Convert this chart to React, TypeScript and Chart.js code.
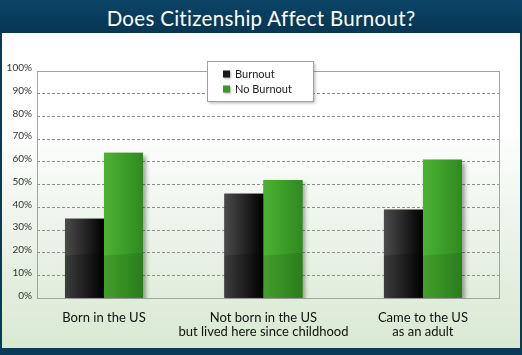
import React, { useEffect, useRef } from "react";
import { Chart, registerables } from "chart.js";

Chart.register(...registerables);

const TITLE = "Does Citizenship Affect Burnout?";
const categories: (string | string[])[] = [
  "Born in the US",
  ["Not born in the US", "but lived here since childhood"],
  ["Came to the US", "as an adult"],
];
const categoryPositions = [0, 1, 2];
const burnout = [35, 46, 39];
const noBurnout = [64, 52, 61];
const yTicks = [0, 10, 20, 30, 40, 50, 60, 70, 80, 90, 100];
const seriesNames = ["Burnout", "No Burnout"];

const FONT = "Lato, 'Open Sans', 'DejaVu Sans', sans-serif";

export default function App() {
  const ref = useRef<HTMLCanvasElement | null>(null);

  useEffect(() => {
    document.body.style.margin = "0";
    const canvas = ref.current!;

    const shadowPlugin = {
      id: "shadowPlugin",
      beforeDatasetsDraw(chart: any) {
        const ctx = chart.ctx;
        const a = chart.chartArea;
        ctx.save();
        ctx.strokeStyle = "#a3a3a3";
        ctx.lineWidth = 1;
        ctx.strokeRect(Math.round(a.left) + 0.5, Math.round(a.top) + 0.5, Math.round(a.right - a.left), Math.round(a.bottom - a.top));
        ctx.restore();
        ctx.save();
        ctx.shadowColor = "rgba(0,0,0,0.35)";
        ctx.shadowOffsetX = 3;
        ctx.shadowOffsetY = 3;
        ctx.shadowBlur = 4;
      },
      afterDatasetsDraw(chart: any) {
        const ctx = chart.ctx;
        ctx.restore();
        chart.data.datasets.forEach((ds: any, di: number) => {
          const meta = chart.getDatasetMeta(di);
          meta.data.forEach((el: any) => {
            const left = el.x - el.width / 2;
            const right = el.x + el.width / 2;
            const top = el.y;
            const bottom = el.base;
            const g = ctx.createLinearGradient(left, 0, right, 0);
            if (di === 0) {
              g.addColorStop(0, "#4b4b4b");
              g.addColorStop(0.45, "#2a2a2a");
              g.addColorStop(1, "#000000");
            } else {
              g.addColorStop(0, "#4db233");
              g.addColorStop(1, "#2f8a1f");
            }
            ctx.save();
            ctx.fillStyle = g;
            ctx.fillRect(left, top, right - left, bottom - top);
            const y1 = Math.max(top, bottom - 42);
            const y2 = Math.max(top, bottom - 45);
            ctx.beginPath();
            ctx.moveTo(left, y1);
            ctx.lineTo(right, y2);
            ctx.lineTo(right, bottom);
            ctx.lineTo(left, bottom);
            ctx.closePath();
            ctx.fillStyle = di === 0 ? "rgba(0,0,0,0.18)" : "rgba(20,60,10,0.16)";
            ctx.fill();
            ctx.restore();
          });
        });
      },
      afterDraw(chart: any) {
        const ctx = chart.ctx;
        const bx = 207, by = 61, bw = 106, bh = 40;
        ctx.save();
        ctx.shadowColor = "rgba(0,0,0,0.3)";
        ctx.shadowOffsetX = 2;
        ctx.shadowOffsetY = 2;
        ctx.shadowBlur = 3;
        ctx.fillStyle = "#ffffff";
        ctx.fillRect(bx, by, bw, bh);
        ctx.restore();
        ctx.save();
        ctx.strokeStyle = "#a0a0a0";
        ctx.lineWidth = 1;
        ctx.strokeRect(bx + 0.5, by + 0.5, bw, bh);
        ctx.font = "11px " + FONT;
        ctx.textBaseline = "middle";
        ctx.fillStyle = "#222";
        chart.data.datasets.forEach((ds: any, i: number) => {
          const cy = 74 + i * 15;
          ctx.save();
          ctx.shadowColor = "rgba(0,0,0,0.35)";
          ctx.shadowOffsetX = 1;
          ctx.shadowOffsetY = 1;
          ctx.shadowBlur = 2;
          ctx.fillStyle = i === 0 ? "#1a1a1a" : "#3a9a26";
          ctx.fillRect(223, cy - 3.5, 7, 7);
          ctx.restore();
          ctx.fillStyle = "#222";
          ctx.fillText(ds.label, 235, cy);
        });
        ctx.restore();
      },
    };

    const chart = new Chart(canvas, {
      type: "bar",
      data: {
        datasets: [
          {
            label: seriesNames[0],
            data: burnout.map((v, i) => ({ x: categoryPositions[i], y: v })),
            backgroundColor: "#1a1a1a",
            categoryPercentage: 0.489,
            barPercentage: 1,
          },
          {
            label: seriesNames[1],
            data: noBurnout.map((v, i) => ({ x: categoryPositions[i], y: v })),
            backgroundColor: "#3a9a26",
            categoryPercentage: 0.489,
            barPercentage: 1,
          },
        ],
      },
      options: {
        responsive: false,
        animation: false,
        layout: { padding: { left: 0, right: 23.3, top: 71, bottom: 0 } },
        plugins: {
          legend: { display: false },
          title: { display: false },
          tooltip: { enabled: false },
        },
        scales: {
          x: {
            type: "linear",
            min: -0.42,
            max: 2.475,
            offset: false,
            grid: { display: false },
            border: { display: false },
            afterBuildTicks: (scale: any) => {
              scale.ticks = categoryPositions.map((v) => ({ value: v }));
            },
            afterFit: (scale: any) => {
              scale.height = 355 - 298.3;
            },
            ticks: {
              includeBounds: false,
              autoSkip: false,
              maxRotation: 0,
              padding: 4,
              color: "#111",
              font: { family: FONT, size: 13, lineHeight: 1.08 },
              callback: (v: any) => categories[categoryPositions.indexOf(Number(v))] ?? "",
            },
          },
          y: {
            min: 0,
            max: 100,
            afterBuildTicks: (scale: any) => {
              scale.ticks = yTicks.map((v) => ({ value: v }));
            },
            afterFit: (scale: any) => {
              scale.width = 37;
            },
            grid: {
              drawTicks: false,
              lineWidth: 1,
              color: (c: any) =>
                c.tick && (c.tick.value === 0 || c.tick.value === 100) ? "rgba(0,0,0,0)" : "#8e8e8e",
            },
            border: { display: false, dash: [3, 2] },
            ticks: {
              padding: 5,
              labelOffset: -3,
              color: "#333",
              font: { family: FONT, size: 10 },
              callback: (v: any) => v + "%",
            },
          },
        },
      },
      plugins: [shadowPlugin],
    });
    return () => chart.destroy();
  }, []);

  return (
    <div
      style={{
        position: "relative",
        width: 522,
        height: 355,
        background: "#093a58",
        overflow: "hidden",
      }}
    >
      <div
        style={{
          position: "absolute",
          left: 0,
          top: 0,
          width: 522,
          height: 33,
          background: "linear-gradient(#0b4466, #083552)",
          color: "#ffffff",
          fontFamily: FONT,
          fontSize: 20.5,
          lineHeight: "36px",
          textAlign: "center",
          letterSpacing: 0.3,
        }}
      >
        {TITLE}
      </div>
      <div
        style={{
          position: "absolute",
          left: 2,
          top: 33,
          width: 518,
          height: 315,
          background: "linear-gradient(#ffffff 0%, #ffffff 30%, #f0f6ee 55%, #d8e9d1 100%)",
        }}
      />
      <canvas
        ref={ref}
        width={522}
        height={355}
        style={{ position: "absolute", left: 0, top: 0, width: 522, height: 355 }}
      />
    </div>
  );
}
